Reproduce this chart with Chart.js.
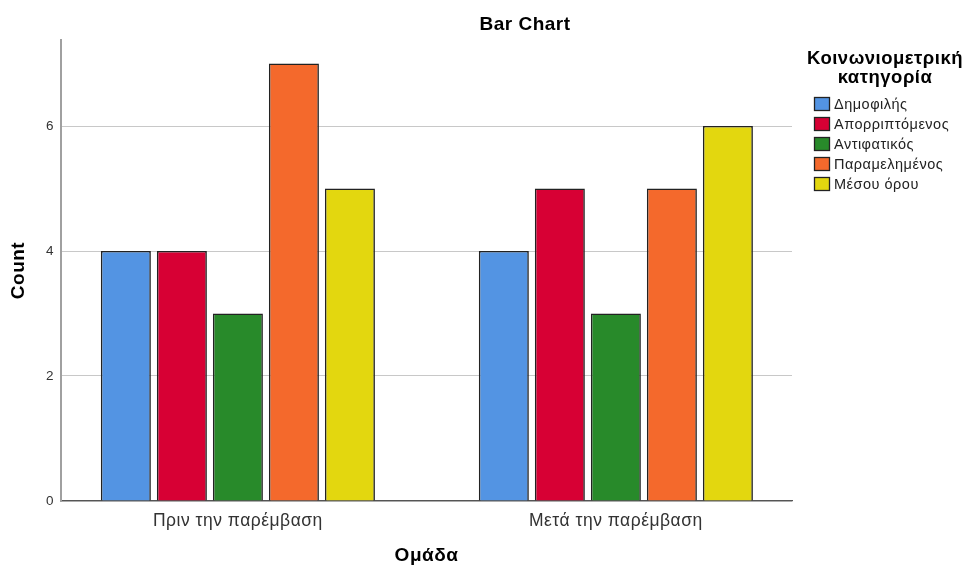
<!DOCTYPE html>
<html>
<head>
<meta charset="utf-8">
<script src="https://cdn.jsdelivr.net/npm/chart.js@4/dist/chart.umd.min.js"></script>
<style>
  html, body { margin: 0; padding: 0; background: #fff; }
  #wrap { width: 967px; height: 565px; position: relative; }
</style>
</head>
<body>
<div id="wrap"><canvas id="c" width="967" height="565"></canvas></div>
<script>
const chartTitle = 'Bar Chart';
const categories = ['Πριν την παρέμβαση', 'Μετά την παρέμβαση'];
const seriesNames = ['Δημοφιλής', 'Απορριπτόμενος', 'Αντιφατικός', 'Παραμελημένος', 'Μέσου όρου'];
const seriesColors = ['#5394E3', '#D70034', '#288A2A', '#F4692C', '#E3D70F'];
const valuesDimofilis = [4, 4];
const valuesAporriptomenos = [4, 5];
const valuesAntifatikos = [3, 3];
const valuesParamelimenos = [7, 5];
const valuesMesouOrou = [5, 6];
const yTicks = [0, 2, 4, 6];
const legendTitle = ['Κοινωνιομετρική', 'κατηγορία'];
const xTitle = 'Ομάδα';
const yTitle = 'Count';

const seriesValues = [valuesDimofilis, valuesAporriptomenos, valuesAntifatikos, valuesParamelimenos, valuesMesouOrou];
const FONT = '"Liberation Sans", Arial, sans-serif';

const datasets = seriesNames.map((name, i) => ({
  label: name,
  data: seriesValues[i].map((v, j) => ({ x: j, y: v })),
  backgroundColor: seriesColors[i],
  borderColor: '#222222',
  borderWidth: 1.6,
  borderSkipped: 'bottom',
  categoryPercentage: 0.741,
  barPercentage: 0.893
}));

const customDraw = {
  id: 'customDraw',
  beforeDraw(chart) {
    chart.ctx.letterSpacing = '0.5px';
  },
  afterDraw(chart) {
    const ctx = chart.ctx;
    ctx.save();
    ctx.letterSpacing = '0.5px';
    ctx.fillStyle = '#000';
    ctx.font = 'bold 19px ' + FONT;
    ctx.textAlign = 'center';
    ctx.textBaseline = 'middle';
    ctx.fillText(chartTitle, 525, 25);
    ctx.font = 'bold 18.5px ' + FONT;
    legendTitle.forEach((t, i) => ctx.fillText(t, 885, 59 + i * 19));
    ctx.font = '14.5px ' + FONT;
    ctx.textAlign = 'left';
    chart.data.datasets.forEach((ds, i) => {
      const y = 104 + i * 20;
      ctx.fillStyle = ds.backgroundColor;
      ctx.fillRect(814, y - 7, 16, 14);
      ctx.strokeStyle = '#222';
      ctx.lineWidth = 1.3;
      ctx.strokeRect(814.5, y - 6.5, 15, 13);
      ctx.fillStyle = '#222';
      ctx.fillText(ds.label, 834, y + 1);
    });
    ctx.restore();
  }
};

new Chart(document.getElementById('c'), {
  type: 'bar',
  data: { datasets },
  options: {
    responsive: false,
    animation: false,
    layout: { padding: { top: 40, right: 175, left: 0, bottom: 0 } },
    plugins: {
      legend: { display: false },
      title: { display: false },
      tooltip: { enabled: false }
    },
    scales: {
      x: {
        type: 'linear',
        offset: false,
        bounds: 'data',
        min: -0.468,
        max: 1.466,
        afterBuildTicks(scale) { scale.ticks = categories.map((c, i) => ({ value: i })); },
        afterFit(scale) { scale.height = 64; },
        ticks: {
          callback: (v) => categories[v],
          color: '#333',
          font: { size: 17.5, family: FONT },
          padding: 10,
          maxRotation: 0,
          autoSkip: false
        },
        grid: { display: false, drawTicks: false, offset: false },
        border: { display: true, color: '#555', width: 1.3 },
        title: {
          display: true,
          text: xTitle,
          color: '#000',
          font: { size: 19, weight: 'bold', family: FONT, lineHeight: 1.0 },
          padding: { top: 0, bottom: 0 }
        }
      },
      y: {
        min: 0,
        max: 7.376,
        afterBuildTicks(scale) { scale.ticks = yTicks.map(v => ({ value: v })); },
        afterFit(scale) { scale.width = 61; },
        ticks: {
          color: '#333',
          font: { size: 13.5, family: FONT },
          padding: 7
        },
        grid: { color: '#c8c8c8', lineWidth: 1, drawTicks: false },
        border: { display: true, color: '#a0a0a0', width: 2 },
        title: {
          display: true,
          text: yTitle,
          color: '#000',
          font: { size: 19, weight: 'bold', family: FONT },
          padding: { top: 7, bottom: 0 }
        }
      }
    }
  },
  plugins: [customDraw]
});
</script>
</body>
</html>
